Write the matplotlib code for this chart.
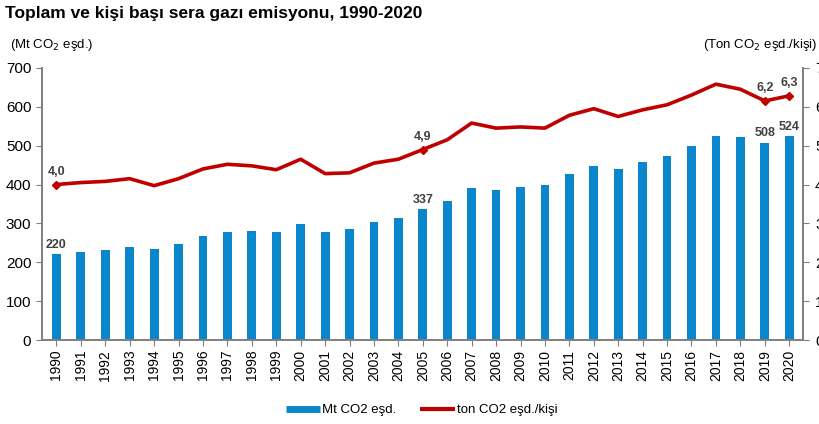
import numpy as np
import matplotlib.pyplot as plt
from matplotlib.lines import Line2D

plt.rcParams['font.family'] = ['Liberation Sans', 'DejaVu Sans']

years = list(range(1990, 2021))
total = [220, 226, 232, 240, 233, 248, 267, 278, 280, 278, 298, 279, 285, 304, 313,
         337, 357, 390, 387, 394, 398, 427, 447, 439, 458, 474, 500, 526, 522, 508, 524]
per_capita = [4.0, 4.05, 4.08, 4.15, 3.97, 4.15, 4.4, 4.52, 4.48, 4.38, 4.65, 4.28, 4.3,
              4.55, 4.65, 4.9, 5.15, 5.58, 5.45, 5.48, 5.45, 5.78, 5.95, 5.75, 5.92,
              6.05, 6.3, 6.58, 6.45, 6.15, 6.28]
bar_labels = {1990: "220", 2005: "337", 2019: "508", 2020: "524"}
line_labels = {1990: "4,0", 2005: "4,9", 2019: "6,2", 2020: "6,3"}

blue = '#0a86cc'
red = '#c00000'
grey = '#7f7f7f'

fig = plt.figure(figsize=(8.19, 4.24), dpi=100)
ax = fig.add_axes([0.051, 0.198, 0.929, 0.642])
x = np.arange(len(years))

ax.bar(x, total, width=0.36, color=blue, zorder=2)
ax.set_ylim(0, 700)
ax.set_xlim(-0.6, len(years) - 0.45)
ax.set_yticks(range(0, 701, 100))
ax.set_xticks(x)
ax.set_xticklabels([str(y) for y in years], rotation=90, fontsize=10)
ax.tick_params(axis='y', labelsize=11, length=4, color=grey)
ax.tick_params(axis='x', length=4, color=grey, pad=3)

ax2 = ax.twinx()
ax2.plot(x, per_capita, color=red, linewidth=2.6, zorder=3)
mk = [years.index(y) for y in line_labels]
ax2.plot(x[mk], np.array(per_capita)[mk], linestyle='none', marker='D',
         markersize=4, color=red, zorder=4)
ax2.set_ylim(0, 7)
ax2.set_yticks(range(0, 8))
ax2.tick_params(axis='y', labelsize=11, length=4, color=grey, pad=5)

for a in (ax, ax2):
    a.spines['top'].set_visible(False)
    for s in ('left', 'right', 'bottom'):
        a.spines[s].set_color(grey)
        a.spines[s].set_linewidth(1.2)
ax.set_zorder(ax2.get_zorder() - 1)
ax.patch.set_visible(False)

for yr, txt in bar_labels.items():
    i = years.index(yr)
    ax.text(i, total[i] + 8, txt, ha='center', va='bottom', fontsize=9,
            fontweight='bold', color='#404040')
for yr, txt in line_labels.items():
    i = years.index(yr)
    ax2.text(i, per_capita[i] + 0.17, txt, ha='center', va='bottom', fontsize=9,
             fontweight='bold', color='#404040')

fig.text(0.006, 0.968, 'Toplam ve kişi başı sera gazı emisyonu, 1990-2020',
         fontsize=12.5, fontweight='bold', va='center', ha='left')
fig.text(0.012, 0.893, '(Mt CO$_2$ eşd.)', fontsize=9.5, va='center', ha='left')
fig.text(0.998, 0.893, '(Ton CO$_2$ eşd./kişi)', fontsize=9.5, va='center', ha='right')

handles = [Line2D([], [], color=blue, linewidth=5, solid_capstyle='butt'),
           Line2D([], [], color=red, linewidth=3, solid_capstyle='butt')]
fig.legend(handles, ['Mt CO2 eşd.', 'ton CO2 eşd./kişi'], loc='center',
           bbox_to_anchor=(0.515, 0.033), ncol=2, frameon=False, fontsize=9.5,
           handlelength=2.6, columnspacing=1.8, handletextpad=0.2)

fig.savefig('out.png', dpi=100)
